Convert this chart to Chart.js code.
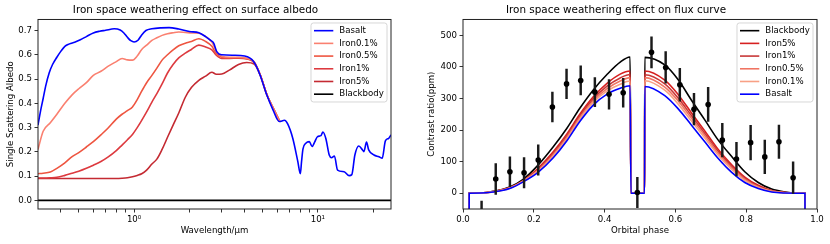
<!DOCTYPE html>
<html>
<head>
<meta charset="utf-8">
<script src="https://cdn.jsdelivr.net/npm/chart.js@4.4.1/dist/chart.umd.min.js"></script>
<style>
  body { margin: 0; background: #fff; }
  #wrap { position: relative; width: 830px; height: 244px; }
  canvas { position: absolute; top: 0; }
</style>
</head>
<body>
<div id="wrap">
  <canvas id="chart-albedo" width="415" height="244" style="left:0"></canvas>
  <canvas id="chart-flux" width="415" height="244" style="left:415px"></canvas>
</div>
<script>
// ---- left panel: single scattering albedo vs wavelength (um)
var wlBasalt = [0.3, 0.31, 0.32, 0.33, 0.345, 0.36, 0.38, 0.40, 0.42, 0.445, 0.475, 0.51, 0.55, 0.6, 0.65,
  0.7, 0.78, 0.84, 0.88, 0.92, 0.96, 1.0, 1.05, 1.1, 1.16, 1.25, 1.4, 1.55, 1.75, 2.0,
  2.25, 2.45, 2.6, 2.71, 2.82, 3.0, 3.5, 4.0, 4.46, 4.84, 5.27, 5.7, 6.17, 6.58, 6.85,
  7.3, 7.78, 8.03, 8.15, 8.3, 8.6, 8.98, 9.3, 9.6, 9.96, 10.4, 10.65, 11.05, 11.53, 11.87,
  12.3, 12.8, 13.9, 14.8, 15.3, 15.9, 16.7, 17.5, 17.8, 18.4, 18.9, 20.2, 21.5, 22.4, 23.3, 24.3, 25];
var basalt = [0.31, 0.37, 0.42, 0.47, 0.525, 0.56, 0.59, 0.615, 0.635, 0.645, 0.652, 0.662, 0.675, 0.69, 0.697,
  0.701, 0.707, 0.702, 0.69, 0.672, 0.658, 0.653, 0.66, 0.682, 0.70, 0.707, 0.711, 0.712, 0.706, 0.696,
  0.691, 0.675, 0.66, 0.648, 0.612, 0.60, 0.598, 0.595, 0.573, 0.518, 0.435, 0.373, 0.325, 0.33, 0.315,
  0.256, 0.16, 0.11, 0.16, 0.212, 0.235, 0.242, 0.222, 0.24, 0.263, 0.267, 0.282, 0.255, 0.187, 0.176,
  0.183, 0.125, 0.118, 0.102, 0.106, 0.187, 0.224, 0.208, 0.201, 0.24, 0.208, 0.187, 0.18, 0.174, 0.245, 0.256, 0.27];

var wlIron = [0.3, 0.32, 0.35, 0.38, 0.42, 0.46, 0.5, 0.55, 0.6, 0.66, 0.72, 0.8, 0.86, 0.92, 0.98,
  1.04, 1.1, 1.17, 1.25, 1.33, 1.42, 1.52, 1.63, 1.75, 1.9, 2.05, 2.25, 2.45, 2.65, 2.8,
  3.0, 3.3, 3.7, 4.1, 4.5, 4.85, 5.3, 5.8, 6.2];
var iron01 = [0.21, 0.285, 0.32, 0.355, 0.40, 0.435, 0.46, 0.485, 0.515, 0.532, 0.552, 0.572, 0.585, 0.579, 0.578,
  0.595, 0.622, 0.640, 0.659, 0.670, 0.680, 0.687, 0.691, 0.694, 0.692, 0.690, 0.689, 0.675, 0.652, 0.615,
  0.594, 0.590, 0.590, 0.586, 0.571, 0.518, 0.432, 0.37, 0.326];
var iron05 = [0.11, 0.112, 0.117, 0.132, 0.155, 0.18, 0.197, 0.22, 0.242, 0.27, 0.297, 0.335, 0.355, 0.37, 0.385,
  0.415, 0.45, 0.485, 0.515, 0.545, 0.578, 0.60, 0.62, 0.637, 0.648, 0.655, 0.666, 0.655, 0.635, 0.605,
  0.59, 0.587, 0.588, 0.585, 0.570, 0.518, 0.432, 0.37, 0.326];
var iron1 = [0.092, 0.092, 0.093, 0.095, 0.103, 0.112, 0.12, 0.132, 0.145, 0.16, 0.178, 0.205, 0.228, 0.25, 0.272,
  0.30, 0.33, 0.365, 0.405, 0.44, 0.48, 0.525, 0.56, 0.587, 0.607, 0.622, 0.64, 0.632, 0.62, 0.598,
  0.585, 0.585, 0.586, 0.583, 0.568, 0.518, 0.432, 0.37, 0.326];
var iron5 = [0.09, 0.09, 0.09, 0.09, 0.09, 0.09, 0.09, 0.09, 0.09, 0.09, 0.09, 0.09, 0.091, 0.093, 0.097,
  0.103, 0.11, 0.125, 0.15, 0.17, 0.21, 0.26, 0.31, 0.36, 0.425, 0.465, 0.495, 0.512, 0.528, 0.52,
  0.521, 0.537, 0.56, 0.568, 0.562, 0.518, 0.432, 0.37, 0.326];
var wlBlack = [0.3, 25];
var albedoBlack = [0, 0];

var wlTicks = [0.4, 0.5, 0.6, 0.7, 0.8, 0.9, 1, 2, 3, 4, 5, 6, 7, 8, 9, 10, 20];
var albedoTicks = [0, 0.1, 0.2, 0.3, 0.4, 0.5, 0.6, 0.7];

// ---- right panel: contrast ratio (ppm) vs orbital phase
var phase = [0.017, 0.0175, 0.05, 0.085, 0.132, 0.17, 0.212, 0.255, 0.293, 0.33, 0.368, 0.406, 0.444, 0.472, 0.4745,
  0.513, 0.5135, 0.57, 0.608, 0.645, 0.683, 0.721, 0.759, 0.796, 0.834, 0.872, 0.91, 0.938, 0.966, 0.9665];
var fluxBlack = [-300, 0, 1, 6, 20, 44, 89, 147, 205, 269, 327, 375, 415, 431, 0,
  0, 430, 406, 359, 295, 232, 168, 116, 68, 34, 13, 4, 1, 0, -300];
var flux5 = [-300, 0, 0.8, 5.2, 18, 40, 79, 131, 187, 250, 305, 347, 377, 387, 0,
  0, 387, 358, 312, 255, 197, 138, 90, 51, 25, 8.5, 2.2, 0.5, 0, -300];
var flux1 = [-300, 0, 0.7, 4.8, 17, 39, 75, 126, 181, 244, 298, 338, 365, 376, 0,
  0, 375, 346, 301, 246, 189, 132, 85, 47, 22, 7.5, 1.8, 0.4, 0, -300];
var flux05 = [-300, 0, 0.6, 4.6, 16.4, 38, 72, 122, 176, 239, 292, 330, 355, 366, 0,
  0, 366, 336, 292, 238, 183, 126, 80, 44, 20, 6.5, 1.5, 0.3, 0, -300];
var flux01 = [-300, 0, 0.6, 4.3, 15.8, 37, 70, 118, 171, 234, 287, 323, 345, 355, 0,
  0, 356, 326, 282, 229, 175, 120, 75, 40, 18, 5.5, 1.1, 0.2, 0, -300];
var fluxBasalt = [-300, 0, 0.5, 4, 15, 36, 66, 112, 165, 227, 279, 313, 332, 340, 0,
  0, 338, 309, 267, 216, 163, 110, 66, 34, 15, 4, 0.5, 0, 0, -300];

var obsPhase = [0.0525, 0.0925, 0.1325, 0.1725, 0.2125, 0.2525, 0.2925, 0.3325, 0.3725, 0.4125, 0.4525, 0.4925,
  0.5325, 0.5725, 0.6125, 0.6525, 0.6925, 0.7325, 0.7725, 0.8125, 0.8525, 0.8925, 0.9325];
var obsFlux = [-75, 45, 68, 65, 105, 273, 346, 357, 320, 313, 318, 2, 446, 398, 343, 266, 281, 168, 108, 160, 115, 163, 49];
var obsErr = [50, 49, 47, 48, 48, 47, 47, 46, 46, 47, 46, 48, 49, 50, 52, 50, 54, 53, 53, 55, 53, 53, 50];

var phaseTicks = [0, 0.2, 0.4, 0.6, 0.8, 1.0];
var fluxTicks = [0, 100, 200, 300, 400, 500];

Chart.defaults.font.family = '"DejaVu Sans", sans-serif';
Chart.defaults.font.size = 8.6;
Chart.defaults.color = '#000';

function pairs(xs, ys) {
  return xs.map(function (x, i) { return { x: x, y: ys[i] }; });
}
function setTicks(list) {
  return function (scale) { scale.ticks = list.map(function (v) { return { value: v }; }); };
}

// axes box on all four sides + matplotlib style legend in the upper right corner
var frameLegend = {
  id: 'frameLegend',
  afterDraw: function (chart, args, opts) {
    var ctx = chart.ctx, a = chart.chartArea;
    ctx.save();
    ctx.strokeStyle = '#222';
    ctx.lineWidth = 1;
    ctx.strokeRect(a.left, a.top, a.right - a.left, a.bottom - a.top);

    var sets = opts.items.map(function (name) {
      return chart.data.datasets.find(function (d) { return d.label === name; });
    });
    ctx.font = '8.6px "DejaVu Sans"';
    var textW = Math.max.apply(null, sets.map(function (d) { return ctx.measureText(d.label).width; }));
    var rowH = 12.7;
    var w = 3 + 19.3 + 6 + textW + 3.2;
    var h = 7.7 + (sets.length - 1) * rowH + 7.8;
    var x0 = a.right - 4 - w, y0 = a.top + 3.5;
    ctx.beginPath();
    ctx.roundRect(x0, y0, w, h, 2.5);
    ctx.fillStyle = 'rgba(255,255,255,0.8)';
    ctx.fill();
    ctx.strokeStyle = '#cccccc';
    ctx.lineWidth = 0.8;
    ctx.stroke();
    ctx.textBaseline = 'middle';
    ctx.textAlign = 'left';
    sets.forEach(function (d, i) {
      var y = y0 + 7.7 + i * rowH;
      ctx.strokeStyle = d.borderColor;
      ctx.lineWidth = 1.6;
      ctx.beginPath();
      ctx.moveTo(x0 + 3, y);
      ctx.lineTo(x0 + 22.3, y);
      ctx.stroke();
      ctx.fillStyle = '#000';
      ctx.fillText(d.label, x0 + 28.3, y);
    });
    ctx.restore();
  }
};

var gridStyle = {
  display: true, drawOnChartArea: false, drawTicks: true,
  tickLength: 3.5, tickColor: '#000', tickWidth: 0.8
};
var titleFont = { size: 10.4, weight: 'normal' };

// left chart
new Chart(document.getElementById('chart-albedo'), {
  type: 'line',
  data: {
    datasets: [
      { label: 'Basalt', data: pairs(wlBasalt, basalt), borderColor: '#0000ff', order: 0 },
      { label: 'Iron0.1%', data: pairs(wlIron, iron01), borderColor: '#fa8070', order: 1 },
      { label: 'Iron0.5%', data: pairs(wlIron, iron05), borderColor: '#ee5540', order: 2 },
      { label: 'Iron1%', data: pairs(wlIron, iron1), borderColor: '#dd3a3f', order: 3 },
      { label: 'Iron5%', data: pairs(wlIron, iron5), borderColor: '#c42a32', order: 4 },
      { label: 'Blackbody', data: pairs(wlBlack, albedoBlack), borderColor: '#000000', order: 5 },
    ]
  },
  options: {
    responsive: false,
    animation: false,
    layout: { padding: { left: 0, right: 24, top: 0, bottom: 0 } },
    elements: {
      line: { borderWidth: 1.6, cubicInterpolationMode: 'monotone' },
      point: { radius: 0 }
    },
    plugins: {
      legend: { display: false },
      tooltip: { enabled: false },
      title: {
        display: true, text: 'Iron space weathering effect on surface albedo',
        font: titleFont, color: '#000', padding: { top: 3.8, bottom: 3.2 }
      },
      frameLegend: { items: ['Basalt', 'Iron0.1%', 'Iron0.5%', 'Iron1%', 'Iron5%', 'Blackbody'] }
    },
    scales: {
      x: {
        type: 'logarithmic', min: 0.3, max: 25,
        afterBuildTicks: setTicks(wlTicks),
        afterFit: function (s) { s.height = 35; },
        grid: gridStyle,
        border: { display: false },
        ticks: {
          autoSkip: false, maxRotation: 0, padding: 2.5,
          callback: function (v) { return v === 1 ? '10\u2070' : (v === 10 ? '10\u00b9' : ''); }
        },
        title: { display: true, text: 'Wavelength/\u03bcm', padding: { top: 0, bottom: 7.8 } }
      },
      y: {
        min: -0.0355, max: 0.7455,
        afterBuildTicks: setTicks(albedoTicks),
        afterFit: function (s) { s.width = 38; },
        grid: gridStyle,
        border: { display: false },
        ticks: { padding: 2.5, callback: function (v) { return v.toFixed(1); } },
        title: { display: true, text: 'Single Scattering Albedo', padding: { top: 5.6, bottom: 0 } }
      }
    }
  },
  plugins: [frameLegend]
});

// right chart
new Chart(document.getElementById('chart-flux'), {
  type: 'line',
  data: {
    datasets: [
      {
        label: 'Observed', data: pairs(obsPhase, obsFlux), showLine: false,
        pointRadius: 2.8, pointBackgroundColor: '#000', pointBorderWidth: 0, borderColor: '#000', order: 0
      },
      {
        type: 'bar', label: 'Error',
        data: obsPhase.map(function (p, i) { return { x: p, y: [obsFlux[i] - obsErr[i], obsFlux[i] + obsErr[i]] }; }),
        backgroundColor: '#1a1a1a', barThickness: 1.8, grouped: false, order: 1
      },
      { label: 'Basalt', data: pairs(phase, fluxBasalt), borderColor: '#0000ff', order: 2 },
      { label: 'Iron0.1%', data: pairs(phase, flux01), borderColor: '#f8a085', order: 3 },
      { label: 'Iron0.5%', data: pairs(phase, flux05), borderColor: '#f07462', order: 4 },
      { label: 'Iron1%', data: pairs(phase, flux1), borderColor: '#c83838', order: 5 },
      { label: 'Iron5%', data: pairs(phase, flux5), borderColor: '#d62020', order: 6 },
      { label: 'Blackbody', data: pairs(phase, fluxBlack), borderColor: '#000000', order: 7 },
    ]
  },
  options: {
    responsive: false,
    animation: false,
    layout: { padding: { left: 0, right: 13, top: 0, bottom: 0 } },
    elements: {
      line: { borderWidth: 1.6, cubicInterpolationMode: 'monotone' },
      point: { radius: 0 }
    },
    plugins: {
      legend: { display: false },
      tooltip: { enabled: false },
      title: {
        display: true, text: 'Iron space weathering effect on flux curve',
        font: titleFont, color: '#000', padding: { top: 3.8, bottom: 3.2 }
      },
      frameLegend: { items: ['Blackbody', 'Iron5%', 'Iron1%', 'Iron0.5%', 'Iron0.1%', 'Basalt'] }
    },
    scales: {
      x: {
        type: 'linear', min: 0, max: 1, offset: false,
        afterBuildTicks: setTicks(phaseTicks),
        afterFit: function (s) { s.height = 35; },
        grid: Object.assign({ offset: false }, gridStyle),
        border: { display: false },
        ticks: { autoSkip: false, maxRotation: 0, padding: 2.5, callback: function (v) { return v.toFixed(1); } },
        title: { display: true, text: 'Orbital phase', padding: { top: 0, bottom: 7.8 } }
      },
      y: {
        type: 'linear', min: -50, max: 550,
        afterBuildTicks: setTicks(fluxTicks),
        afterFit: function (s) { s.width = 48; },
        grid: gridStyle,
        border: { display: false },
        ticks: { padding: 2.5 },
        title: { display: true, text: 'Contrast ratio(ppm)', padding: { top: 11.8, bottom: 0 } }
      }
    }
  },
  plugins: [frameLegend]
});
</script>
</body>
</html>
